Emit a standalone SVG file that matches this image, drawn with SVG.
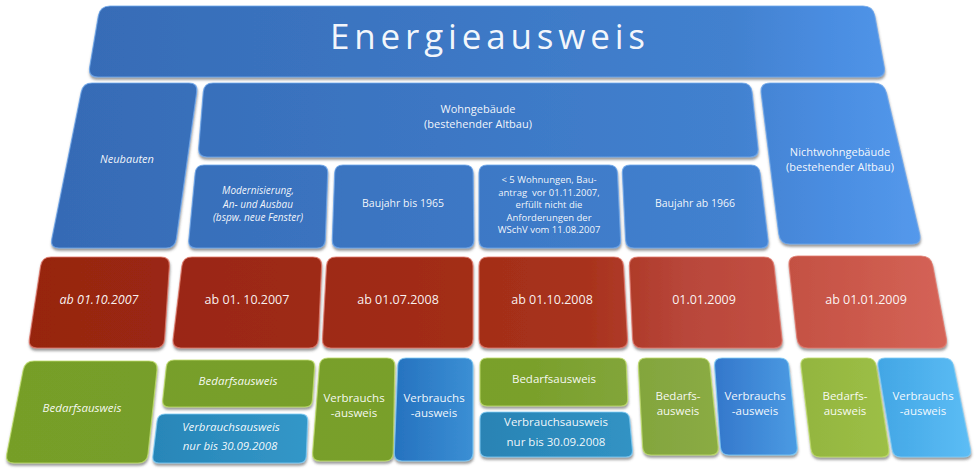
<svg xmlns="http://www.w3.org/2000/svg" width="976" height="476" viewBox="0 0 976 476">
<defs>
<filter id="sh" x="-10%" y="-10%" width="120%" height="130%">
<feDropShadow dx="0.5" dy="2.5" stdDeviation="1" flood-color="#4a4a4a" flood-opacity="0.55"/>
</filter>
<linearGradient id="gB" gradientUnits="userSpaceOnUse" x1="0" y1="0" x2="976" y2="0">
<stop offset="0" stop-color="#3569b3"/><stop offset="0.45" stop-color="#3c77c4"/><stop offset="0.75" stop-color="#4281cf"/><stop offset="0.85" stop-color="#4a8de1"/><stop offset="1" stop-color="#5aa0f2"/>
</linearGradient>
<linearGradient id="gR" gradientUnits="userSpaceOnUse" x1="0" y1="0" x2="976" y2="0">
<stop offset="0" stop-color="#962410"/><stop offset="0.4" stop-color="#a02b15"/><stop offset="0.6" stop-color="#a8321c"/><stop offset="0.7" stop-color="#b8463a"/><stop offset="0.82" stop-color="#c55244"/><stop offset="1" stop-color="#d8675b"/>
</linearGradient>
<linearGradient id="gG" gradientUnits="userSpaceOnUse" x1="0" y1="0" x2="976" y2="0">
<stop offset="0" stop-color="#769e28"/><stop offset="0.55" stop-color="#7aa02c"/><stop offset="0.7" stop-color="#87a843"/><stop offset="0.82" stop-color="#93b540"/><stop offset="1" stop-color="#a6c94b"/>
</linearGradient>
<linearGradient id="gC2" x1="0" y1="0" x2="1" y2="0"><stop offset="0" stop-color="#2886b8"/><stop offset="1" stop-color="#3397c8"/></linearGradient>
<linearGradient id="gC3" x1="0" y1="0" x2="1" y2="0"><stop offset="0" stop-color="#2672bf"/><stop offset="1" stop-color="#3b8fd4"/></linearGradient>
<linearGradient id="gC4" x1="0" y1="0" x2="1" y2="0"><stop offset="0" stop-color="#2983b4"/><stop offset="1" stop-color="#3193c4"/></linearGradient>
<linearGradient id="gC5" x1="0" y1="0" x2="1" y2="0"><stop offset="0" stop-color="#3477cb"/><stop offset="1" stop-color="#4b9be3"/></linearGradient>
<linearGradient id="gC6" x1="0" y1="0" x2="1" y2="0"><stop offset="0" stop-color="#42a6e5"/><stop offset="1" stop-color="#5cbdf5"/></linearGradient>
</defs>
<style>
.bx{filter:url(#sh);stroke-width:1.2;stroke-opacity:0.8}
.b{fill:url(#gB);stroke:#6ea6ea}
.r{fill:url(#gR);stroke:#e07a6e}
.g{fill:url(#gG);stroke:#bedc6c}
.c{stroke:#7fcaf4}
.t{font-family:"Open Sans","DejaVu Sans",sans-serif;fill:#ffffff;text-anchor:middle;fill-opacity:0.95}
.i{font-style:italic}
.s10{font-size:10.5px}
.s9{font-size:9.5px}
.sm{font-size:10px}
.s11{font-size:11px}
.s12{font-size:12.5px}
.s115{font-size:11.5px}
</style>
<rect width="976" height="476" fill="#ffffff"/>

<g id="title">
<path class="bx b" d="M110,6 L863,6 Q873,6 874.8,16 L884.2,67 Q886,77 876,77 L98,77 Q88,77 89.7,67 L98.3,16 Q100,6 110,6 Z"/>
<text class="t" x="330" y="49" font-size="35" textLength="315" lengthAdjust="spacing" style="text-anchor:start">Energieausweis</text>
</g>

<g id="neubauten">
<path class="bx b" d="M92,83 L189,83 Q198,83 196.7,92 L176.3,239 Q175,248 166,248 L59,248 Q50,248 51.8,239 L81.2,92 Q83,83 92,83 Z"/>
<text class="t i s11" x="127" y="162.5">Neubauten</text>
</g>

<g id="wohngebaeude">
<path class="bx b" d="M213,83 L742,83 Q751,83 752,92 L758,148 Q759,157 750,157 L207,157 Q198,157 198.7,148 L203.3,92 Q204,83 213,83 Z"/>
<text class="t s11" x="478" y="113">Wohngebäude</text>
<text class="t s11" x="478" y="127.5">(bestehender Altbau)</text>
</g>

<g id="modernisierung">
<path class="bx b" d="M204,165 L320,165 Q328,165 327.7,173 L325.3,240 Q325,248 317,248 L196,248 Q188,248 188.8,240 L195.2,173 Q196,165 204,165 Z"/>
<text class="t i sm" x="258" y="194">Modernisierung,</text>
<text class="t i sm" x="258" y="207.5">An- und Ausbau</text>
<text class="t i sm" x="258" y="221">(bspw. neue Fenster)</text>
</g>

<g id="baujahr-bis-1965">
<path class="bx b" d="M343,165 L465,165 Q473,165 473.1,173 L473.9,240 Q474,248 466,248 L340,248 Q332,248 332.3,240 L334.7,173 Q335,165 343,165 Z"/>
<text class="t s10" x="403" y="206.5">Baujahr bis 1965</text>
</g>

<g id="wohnungen-5">
<path class="bx b" d="M487,165 L609,165 Q617,165 617.4,173 L620.6,240 Q621,248 613,248 L487,248 Q479,248 479,240 L479,173 Q479,165 487,165 Z"/>
<text class="t s9" x="549" y="183">&lt; 5 Wohnungen, Bau-</text>
<text class="t s9" x="549" y="195.5" xml:space="preserve">antrag  vor 01.11.2007,</text>
<text class="t s9" x="549" y="208">erfüllt nicht die</text>
<text class="t s9" x="549" y="220.5">Anforderungen der</text>
<text class="t s9" x="549" y="233">WSchV vom 11.08.2007</text>
</g>

<g id="baujahr-ab-1966">
<path class="bx b" d="M630,165 L751,165 Q759,165 760,173 L768,240 Q769,248 761,248 L634,248 Q626,248 625.6,240 L622.4,173 Q622,165 630,165 Z"/>
<text class="t s10" x="695" y="206.5">Baujahr ab 1966</text>
</g>

<g id="nichtwohngebaeude">
<path class="bx b" d="M770,83 L874,83 Q884,83 886.4,93 L919.6,234 Q922,244 912,244 L790,244 Q780,244 778.8,234 L761.2,93 Q760,83 770,83 Z"/>
<text class="t s11" x="840" y="156">Nichtwohngebäude</text>
<text class="t s11" x="840" y="170.5">(bestehender Altbau)</text>
</g>

<g id="datum-neubauten">
<path class="bx r" d="M51,257 L161,257 Q170,257 169.4,266 L164.6,339 Q164,348 155,348 L37,348 Q28,348 29.4,339 L40.6,266 Q42,257 51,257 Z"/>
<text class="t i s12" x="99" y="304">ab 01.10.2007</text>
</g>

<g id="datum-modernisierung">
<path class="bx r" d="M192,257 L313,257 Q322,257 321.6,266 L318.4,339 Q318,348 309,348 L181,348 Q172,348 173.1,339 L181.9,266 Q183,257 192,257 Z"/>
<text class="t s12" x="247" y="304" xml:space="preserve">ab 01. 10.2007</text>
</g>

<g id="datum-1965">
<path class="bx r" d="M336,257 L464,257 Q473,257 473,266 L473,339 Q473,348 464,348 L331,348 Q322,348 322.5,339 L326.5,266 Q327,257 336,257 Z"/>
<text class="t s12" x="398" y="304">ab 01.07.2008</text>
</g>

<g id="datum-wohnungen">
<path class="bx r" d="M488,257 L614,257 Q623,257 623.5,266 L627.5,339 Q628,348 619,348 L488,348 Q479,348 479,339 L479,266 Q479,257 488,257 Z"/>
<text class="t s12" x="552" y="304">ab 01.10.2008</text>
</g>

<g id="datum-1966">
<path class="bx r" d="M638,257 L764,257 Q773,257 774,266 L782,339 Q783,348 774,348 L642,348 Q633,348 632.6,339 L629.4,266 Q629,257 638,257 Z"/>
<text class="t s12" x="704" y="304">01.01.2009</text>
</g>

<g id="datum-nichtwohn">
<path class="bx r" d="M798,256 L921,256 Q931,256 932.8,266 L946.2,338 Q948,348 938,348 L808,348 Q798,348 796.9,338 L789.1,266 Q788,256 798,256 Z"/>
<text class="t s12" x="866" y="304">ab 01.01.2009</text>
</g>

<g id="bedarf-neubauten">
<path class="bx g" d="M34,361 L149,361 Q158,361 157,370 L148,454 Q147,463 138,463 L14,463 Q5,463 6.8,454 L23.2,370 Q25,361 34,361 Z"/>
<text class="t i s115" x="82" y="412">Bedarfsausweis</text>
</g>

<g id="bedarf-modernisierung">
<path class="bx g" d="M174,360 L308,360 Q315,360 314.6,367 L312.4,400 Q312,407 305,407 L169,407 Q162,407 162.7,400 L166.3,367 Q167,360 174,360 Z"/>
<text class="t i s115" x="238" y="385">Bedarfsausweis</text>
</g>

<g id="verbrauch-modernisierung">
<path class="bx c" fill="url(#gC2)" d="M165,414 L301,414 Q308,414 307.7,421 L306.3,456 Q306,463 299,463 L159,463 Q152,463 152.9,456 L157.1,421 Q158,414 165,414 Z"/>
<text class="t i s115" x="231" y="431">Verbrauchsausweis</text>
<text class="t i s115" x="230" y="450">nur bis 30.09.2008</text>
</g>

<g id="verbrauch-1965-gruen">
<path class="bx g" d="M328,358 L387,358 Q395,358 394.8,366 L393.2,453 Q393,461 385,461 L320,461 Q312,461 312.6,453 L319.4,366 Q320,358 328,358 Z"/>
<text class="t s115" x="354" y="402">Verbrauchs</text>
<text class="t s115" x="354" y="417">-ausweis</text>
</g>

<g id="verbrauch-1965-blau">
<path class="bx c" fill="url(#gC3)" d="M406,358 L465,358 Q473,358 473,366 L473,453 Q473,461 465,461 L402,461 Q394,461 394.3,453 L397.7,366 Q398,358 406,358 Z"/>
<text class="t s115" x="434" y="402">Verbrauchs</text>
<text class="t s115" x="434" y="417">-ausweis</text>
</g>

<g id="bedarf-wohnungen">
<path class="bx g" d="M487,358 L619,358 Q626,358 626.3,365 L627.7,399 Q628,406 621,406 L487,406 Q480,406 480,399 L480,365 Q480,358 487,358 Z"/>
<text class="t s115" x="554" y="383">Bedarfsausweis</text>
</g>

<g id="verbrauch-wohnungen">
<path class="bx c" fill="url(#gC4)" d="M487,412 L622,412 Q629,412 629.6,419 L632.4,450 Q633,457 626,457 L487,457 Q480,457 480,450 L480,419 Q480,412 487,412 Z"/>
<text class="t s115" x="556" y="426">Verbrauchsausweis</text>
<text class="t s115" x="556" y="446">nur bis 30.09.2008</text>
</g>

<g id="bedarf-1966">
<path class="bx g" d="M646,358 L701,358 Q709,358 709.8,366 L718.2,447 Q719,455 711,455 L651,455 Q643,455 642.6,447 L638.4,366 Q638,358 646,358 Z"/>
<text class="t s115" x="678" y="400">Bedarfs-</text>
<text class="t s115" x="678" y="414.5">ausweis</text>
</g>

<g id="verbrauch-1966">
<path class="bx c" fill="url(#gC5)" d="M722,358 L780,358 Q788,358 788.8,366 L797.2,447 Q798,455 790,455 L729,455 Q721,455 720.4,447 L714.6,366 Q714,358 722,358 Z"/>
<text class="t s115" x="755" y="400">Verbrauchs</text>
<text class="t s115" x="755" y="414.5">-ausweis</text>
</g>

<g id="bedarf-nichtwohn">
<path class="bx g" d="M808,358 L867,358 Q875,358 876.2,366 L888.8,449 Q890,457 882,457 L820,457 Q812,457 811,449 L801,366 Q800,358 808,358 Z"/>
<text class="t s115" x="845" y="400">Bedarfs-</text>
<text class="t s115" x="845" y="414.5">ausweis</text>
</g>

<g id="verbrauch-nichtwohn">
<path class="bx c" fill="url(#gC6)" d="M885,358 L944,358 Q952,358 953.6,366 L970.4,449 Q972,457 964,457 L901,457 Q893,457 892,449 L878,366 Q877,358 885,358 Z"/>
<text class="t s115" x="923" y="400">Verbrauchs</text>
<text class="t s115" x="923" y="414.5">-ausweis</text>
</g>
</svg>
